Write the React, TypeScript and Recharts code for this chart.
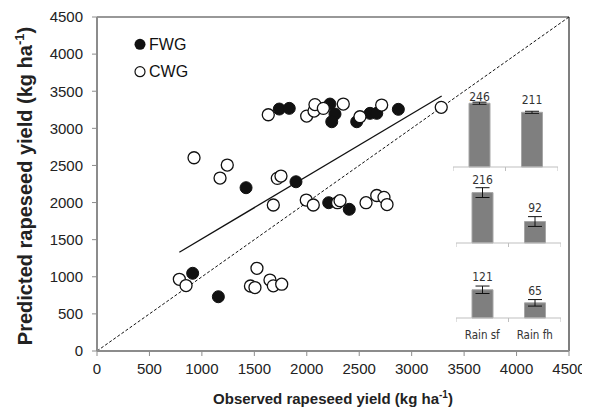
import React from 'react';
import {
  ScatterChart, Scatter, XAxis, YAxis, ReferenceLine, Legend,
  BarChart, Bar, ErrorBar, LabelList,
} from 'recharts';

// ---------- main scatter data ----------
const seriesNames = ['FWG', 'CWG'];
const fwgObserved = [1738, 1833, 2221, 2269, 2238, 2476, 2603, 2667, 2873, 1421, 1897, 2209, 2405, 912, 1157];
const fwgPredicted = [3260, 3269, 3327, 3192, 3089, 3089, 3202, 3202, 3256, 2200, 2280, 1998, 1909, 1047, 731];
const cwgObserved = [1633, 1999, 2069, 2078, 2158, 2348, 2507, 2714, 3282, 925, 1242, 1173, 1719, 1754, 1681, 1995, 2062, 2293, 2317, 2565, 2667, 2736, 2765, 785, 849, 1525, 1463, 1506, 1649, 1681, 1761];
const cwgPredicted = [3183, 3165, 3233, 3320, 3269, 3327, 3156, 3314, 3283, 2604, 2505, 2330, 2326, 2357, 1967, 2034, 1967, 1998, 2025, 1998, 2095, 2070, 1973, 966, 882, 1114, 876, 855, 956, 878, 900];
const axisTicks = [0, 500, 1000, 1500, 2000, 2500, 3000, 3500, 4000, 4500];
const fitLineX = [785, 3286];
const fitLineY = [1330, 3435];
const oneToOne = [0, 4500];

// ---------- inset bar data ----------
const insetCategories = ['Rain sf', 'Rain fh'];
const topValues = [246, 211];
const topErrors = [4, 4];
const midValues = [216, 92];
const midErrors = [21, 21];
const botValues = [121, 65];
const botErrors = [16, 14];

const fwgData = fwgObserved.map((x, i) => ({ x, y: fwgPredicted[i] }));
const cwgData = cwgObserved.map((x, i) => ({ x, y: cwgPredicted[i] }));
const mkInset = (vals: number[], errs: number[]) =>
  insetCategories.map((name, i) => ({ name, value: vals[i], err: errs[i] }));

const FONT = "'Liberation Sans', Arial, sans-serif";
const NARROW = "'Liberation Sans Narrow', 'DejaVu Sans Condensed', sans-serif";

const FilledDot = (p: any) => <circle cx={p.cx} cy={p.cy} r={6} fill="#111" stroke="#111" strokeWidth={1} />;
const OpenDot = (p: any) => <circle cx={p.cx} cy={p.cy} r={6} fill="#fff" stroke="#111" strokeWidth={1.3} />;

const renderLegend = () => (
  <svg width={80} height={50} style={{ display: 'block', overflow: 'visible' }}>
    <circle cx={8} cy={8.3} r={5.5} fill="#111" />
    <text x={17} y={14} fontSize={16} fontFamily={FONT} fill="#111">{seriesNames[0]}</text>
    <circle cx={8} cy={35.7} r={5} fill="#fff" stroke="#111" strokeWidth={1.2} />
    <text x={17} y={41.4} fontSize={16} fontFamily={FONT} fill="#111">{seriesNames[1]}</text>
  </svg>
);

const XTitle = (props: any) => {
  const vb = props.viewBox || {};
  const cx = vb.x + vb.width / 2;
  return (
    <text x={cx} y={396} textAnchor="middle" fontSize={15} fontWeight="bold" fontFamily={FONT} fill="#222">
      Observed rapeseed yield (kg ha<tspan dy={-6} fontSize={10}>-1</tspan><tspan dy={6}>)</tspan>
    </text>
  );
};

const YTitle = () => (
  <text x={24} y={178} transform="rotate(-90 24 178)" textAnchor="middle" fontSize={20} fontWeight="bold" fontFamily={FONT} fill="#222">
    Predicted rapeseed yield (kg ha<tspan dy={-8} fontSize={13}>-1</tspan><tspan dy={8}>)</tspan>
  </text>
);

type InsetProps = {
  data: { name: string; value: number; err: number }[];
  max: number;
  left: number;
  top: number;
  width: number;
  labelOffsets: number[];
  showCats: boolean;
};

const Inset = ({ data, max, left, top, width, labelOffsets, showCats }: InsetProps) => {
  const half = width / 4;
  const axisH = showCats ? 26 : 8;
  const Tick = (p: any) => (
    <g>
      <line x1={p.x - half} x2={p.x - half} y1={p.y} y2={p.y + 4} stroke="#bfbfbf" strokeWidth={1} />
      <line x1={p.x + half} x2={p.x + half} y1={p.y} y2={p.y + 4} stroke="#bfbfbf" strokeWidth={1} />
      {showCats && (
        <text x={p.x} y={p.y + 20.5} textAnchor="middle" fontSize={11.5} fontFamily={NARROW} fill="#333">
          {p.payload.value}
        </text>
      )}
    </g>
  );
  const ValueLabel = (p: any) => (
    <text x={p.x + p.width / 2} y={p.y - labelOffsets[p.index] + 4.3} textAnchor="middle" fontSize={12} fontFamily={NARROW} fill="#333">
      {p.value}
    </text>
  );
  return (
    <div style={{ position: 'absolute', left, top }}>
      <BarChart width={width} height={22 + 70 + axisH} data={data} margin={{ top: 22, right: 0, left: 0, bottom: 0 }}>
        <XAxis dataKey="name" type="category" height={axisH} tickSize={0} tickMargin={0} tickLine={false}
          axisLine={{ stroke: '#bfbfbf', strokeWidth: 1 }} tick={<Tick />} interval={0} />
        <YAxis hide domain={[0, max]} />
        <Bar dataKey="value" barSize={21} fill="#7f7f7f" stroke="#a6a6a6" strokeWidth={1} isAnimationActive={false}>
          <ErrorBar dataKey="err" width={7} stroke="#111" strokeWidth={1} direction="y" />
          <LabelList dataKey="value" content={<ValueLabel />} />
        </Bar>
      </BarChart>
    </div>
  );
};

export default function App() {
  return (
    <div style={{ position: 'relative', width: 580, height: 399, fontFamily: FONT }}>
      <ScatterChart width={580} height={399} margin={{ top: 9, right: 19, bottom: 0, left: 0 }}>
        <XAxis type="number" dataKey="x" domain={[0, 4500]} ticks={axisTicks} interval={0}
          height={56} tickSize={5} tickMargin={7} stroke="#8c8c8c"
          axisLine={{ stroke: '#8c8c8c', strokeWidth: 2 }}
          tick={{ fontSize: 15, fill: '#222', fontFamily: FONT }} label={<XTitle />} />
        <YAxis type="number" dataKey="y" domain={[0, 4500]} ticks={axisTicks} interval={0}
          width={89} tickSize={5} tickMargin={9} stroke="#8c8c8c"
          axisLine={{ stroke: '#8c8c8c', strokeWidth: 2 }}
          tick={{ fontSize: 15, fill: '#222', fontFamily: FONT }} label={<YTitle />} />
        <ReferenceLine y={4500} stroke="#333" strokeWidth={1.2} />
        <ReferenceLine x={4500} stroke="#555" strokeWidth={1.5} />
        <ReferenceLine segment={[{ x: oneToOne[0], y: oneToOne[0] }, { x: oneToOne[1], y: oneToOne[1] }]}
          stroke="#111" strokeWidth={1} strokeDasharray="3 2" />
        <ReferenceLine segment={[{ x: fitLineX[0], y: fitLineY[0] }, { x: fitLineX[1], y: fitLineY[1] }]}
          stroke="#111" strokeWidth={1.3} />
        <Legend content={renderLegend} layout="horizontal" verticalAlign="middle" align="center"
          wrapperStyle={{ left: 124, top: 28, width: 80, height: 50 }} />
        <Scatter name={seriesNames[0]} data={fwgData} shape={<FilledDot />} isAnimationActive={false} />
        <Scatter name={seriesNames[1]} data={cwgData} shape={<OpenDot />} isAnimationActive={false} />
      </ScatterChart>
      <Inset data={mkInset(topValues, topErrors)} max={270} left={445} top={66.7} width={105} labelOffsets={[6.6, 13]} showCats={false} />
      <Inset data={mkInset(midValues, midErrors)} max={300} left={448} top={142.7} width={105} labelOffsets={[12.7, 13.7]} showCats={false} />
      <Inset data={mkInset(botValues, botErrors)} max={300} left={448} top={218.3} width={105} labelOffsets={[12.7, 12.6]} showCats={true} />
    </div>
  );
}
